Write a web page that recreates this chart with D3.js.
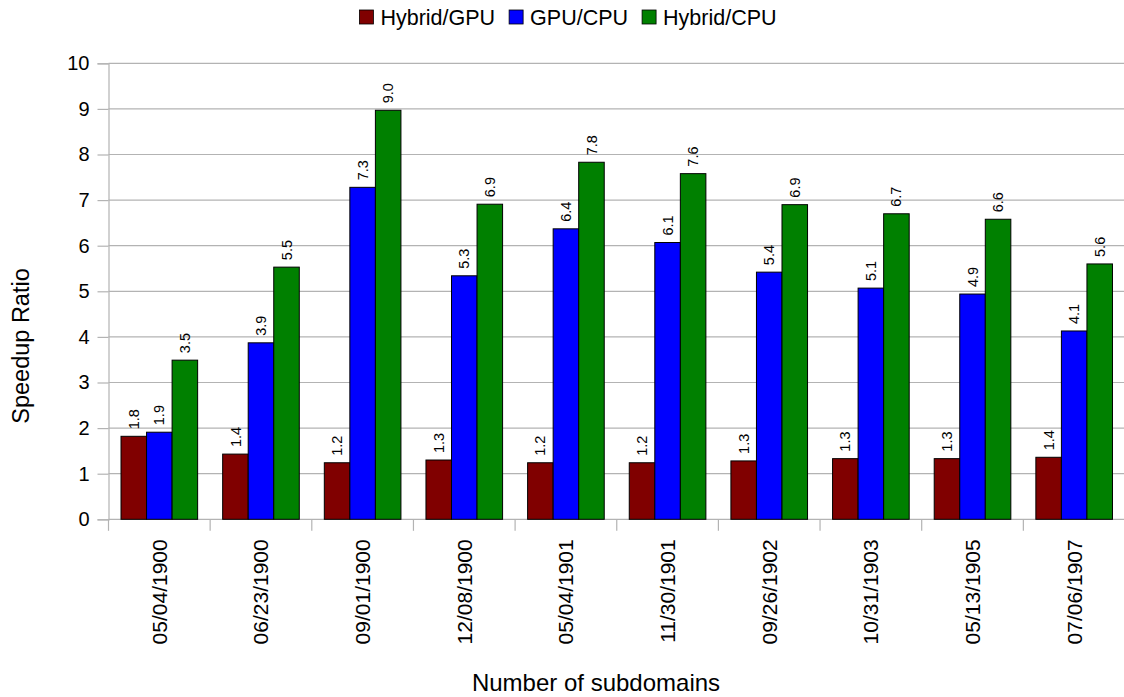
<!DOCTYPE html>
<html>
<head>
<meta charset="utf-8">
<script src="https://cdn.jsdelivr.net/npm/d3@7"></script>
<style>
  html, body { margin: 0; padding: 0; background: #fff; }
  svg { display: block; font-family: "Liberation Sans", Arial, sans-serif; }
</style>
</head>
<body>
<svg id="chart" width="1124" height="697"></svg>
<script>
// Run dates used as category labels
const categories = ["05/04/1900", "06/23/1900", "09/01/1900", "12/08/1900", "05/04/1901",
                    "11/30/1901", "09/26/1902", "10/31/1903", "05/13/1905", "07/06/1907"];
const seriesNames = ["Hybrid/GPU", "GPU/CPU", "Hybrid/CPU"];
const hybridGpu = [1.82, 1.43, 1.24, 1.30, 1.24, 1.24, 1.28, 1.33, 1.33, 1.36];
const gpuCpu    = [1.91, 3.87, 7.28, 5.34, 6.37, 6.07, 5.42, 5.07, 4.94, 4.13];
const hybridCpu = [3.49, 5.53, 8.97, 6.91, 7.83, 7.58, 6.90, 6.70, 6.58, 5.60];
const yTicks = [0, 1, 2, 3, 4, 5, 6, 7, 8, 9, 10];
const seriesColors = ["#800000", "#0000ff", "#008000"];

const seriesValues = [hybridGpu, gpuCpu, hybridCpu];
const rows = categories.map((c, i) => ({
  cat: c,
  vals: seriesNames.map((s, k) => ({ series: s, value: seriesValues[k][i] }))
}));

const svg = d3.select("#chart");
const plotLeft = 108.5, plotRight = 1125, plotTop = 63.3, plotBottom = 519.3;

const x0 = d3.scaleBand().domain(categories).range([plotLeft, plotRight]).padding(0);
const x1 = d3.scaleBand().domain(seriesNames).range([0, x0.bandwidth()])
  .paddingInner(0).paddingOuter(0.49);
const y = d3.scaleLinear().domain([0, 10]).range([plotBottom, plotTop]);
const color = d3.scaleOrdinal().domain(seriesNames).range(seriesColors);

const gridColor = "#b3b3b3";

// horizontal gridlines
svg.append("g").selectAll("line").data(yTicks).join("line")
  .attr("x1", plotLeft).attr("x2", 1124)
  .attr("y1", d => y(d)).attr("y2", d => y(d))
  .attr("stroke", gridColor).attr("stroke-width", 1.2);

// y axis
const yAxis = svg.append("g").attr("transform", `translate(${plotLeft},0)`)
  .call(d3.axisLeft(y).tickValues(yTicks).tickSize(11).tickPadding(8).tickFormat(d3.format("d")));
yAxis.select(".domain").attr("stroke", gridColor).attr("stroke-width", 1.2);
yAxis.selectAll(".tick line").attr("stroke", gridColor).attr("stroke-width", 1.2);
yAxis.selectAll(".tick text").attr("font-size", 20).attr("fill", "#000")
  .attr("font-family", "Liberation Sans, Arial, sans-serif");

// category axis: tick marks at band boundaries
const bounds = categories.map(c => x0(c)).concat([plotRight]);
svg.append("g").selectAll("line").data(bounds).join("line")
  .attr("x1", d => d).attr("x2", d => d)
  .attr("y1", plotBottom).attr("y2", plotBottom + 11.5)
  .attr("stroke", gridColor).attr("stroke-width", 1.2);

// rotated category labels
svg.append("g").selectAll("text").data(categories).join("text")
  .attr("transform", d => `translate(${x0(d) + x0.bandwidth() / 2},${plotBottom + 20}) rotate(-90)`)
  .attr("text-anchor", "end").attr("dy", "0.35em")
  .attr("font-size", 21).attr("fill", "#000")
  .text(d => d);

// bars
const groups = svg.append("g").selectAll("g").data(rows).join("g")
  .attr("transform", d => `translate(${x0(d.cat)},0)`);

groups.selectAll("rect").data(d => d.vals).join("rect")
  .attr("x", d => x1(d.series))
  .attr("y", d => y(d.value))
  .attr("width", x1.bandwidth())
  .attr("height", d => y(0) - y(d.value))
  .attr("fill", d => color(d.series))
  .attr("stroke", "#000").attr("stroke-width", 1);

// value labels
groups.selectAll("text").data(d => d.vals).join("text")
  .attr("transform", d => `translate(${x1(d.series) + x1.bandwidth() / 2},${y(d.value) - 7}) rotate(-90)`)
  .attr("dy", "0.35em").attr("text-anchor", "start")
  .attr("font-size", 14.5).attr("fill", "#000")
  .text(d => d.value.toFixed(1));

// axis titles
svg.append("text")
  .attr("x", 596).attr("y", 691)
  .attr("text-anchor", "middle").attr("font-size", 24).attr("fill", "#000")
  .text("Number of subdomains");

svg.append("text")
  .attr("transform", "translate(29,346) rotate(-90)")
  .attr("text-anchor", "middle").attr("font-size", 23.5).attr("fill", "#000")
  .text("Speedup Ratio");

// legend
const legend = svg.append("g");
let lx = 0;
seriesNames.forEach((s) => {
  const g = legend.append("g");
  g.append("rect").attr("x", 0).attr("y", -7).attr("width", 14).attr("height", 14)
    .attr("fill", color(s)).attr("stroke", "#000").attr("stroke-width", 0.8);
  const t = g.append("text").attr("x", 21).attr("dy", "0.35em")
    .attr("font-size", 21.5).attr("fill", "#000").text(s);
  const w = 21 + t.node().getComputedTextLength();
  g.attr("transform", `translate(${lx},17)`);
  lx += w + 14;
});
const legendWidth = lx - 14;
legend.attr("transform", `translate(${568 - legendWidth / 2},0)`);
</script>
</body>
</html>
